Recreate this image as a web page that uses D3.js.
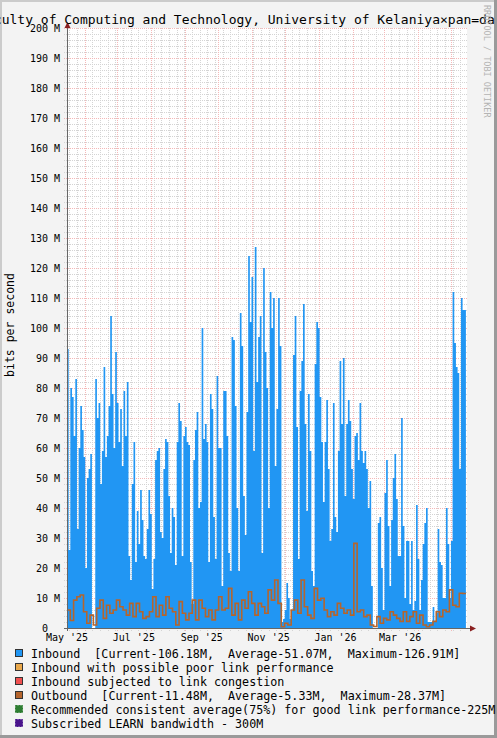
<!DOCTYPE html>
<html>
<head>
<meta charset="utf-8">
<script src="https://cdn.jsdelivr.net/npm/d3@7/dist/d3.min.js"></script>
<style>
  html, body { margin: 0; padding: 0; background: #f3f3f3; }
  svg { display: block; }
  text { font-family: "DejaVu Sans Mono", monospace; white-space: pre; }
</style>
</head>
<body>
<div id="chart"></div>
<script>
// ---- data ----
var titleText = "Faculty of Computing and Technology, University of Kelaniya×pan=da";
var yLabel = "bits per second";
var credit = "RRDTOOL / TOBI OETIKER";

var yTickValues = [0, 10, 20, 30, 40, 50, 60, 70, 80, 90, 100, 110, 120, 130, 140, 150, 160, 170, 180, 190, 200];
var xLabelDates = ["2025-05-16", "2025-07-16", "2025-09-16", "2025-11-16", "2026-01-16", "2026-03-16"];
var xLabelTexts = ["May '25", "Jul '25", "Sep '25", "Nov '25", "Jan '26", "Mar '26"];

var viewStart = "2025-05-16", viewEnd = "2026-05-16";
var dataStart = "2025-05-16", dataEnd = "2026-05-15";

// Inbound, Mbit/s, evenly spaced samples over the data span
var inbound = [
  93, 26, 80, 77, 64, 83, 33, 60, 74, 66, 57, 20, 50, 53, 58, 0, 0, 83, 70, 75,
  48, 59, 87, 57, 64, 74, 104, 78, 60, 92, 75, 62, 73, 54, 79, 64, 82, 24, 16, 48,
  62, 22, 39, 28, 46, 36, 24, 23, 33, 46, 38, 13, 23, 56, 59, 60, 32, 30, 53, 63,
  62, 44, 25, 40, 37, 21, 62, 75, 69, 24, 64, 67, 62, 61, 22, 8, 56, 66, 72, 40,
  42, 100, 63, 68, 62, 22, 78, 73, 37, 23, 84, 60, 60, 14, 79, 79, 64, 25, 19, 97,
  96, 74, 40, 19, 105, 94, 44, 31, 72, 124, 102, 117, 59, 127, 82, 97, 104, 25, 120, 92,
  80, 40,
  112, 100, 110, 54, 73, 110, 94, 2, 3, 6, 15, 10, 3, 6, 91, 104, 67, 23, 79, 89,
  108, 68, 39, 78, 59, 19, 14, 88, 102, 100, 77, 62, 42, 62, 76, 53, 29, 33, 75, 37,
  32, 59, 89, 68, 90, 44, 68, 76, 69, 53, 43, 64, 65, 56, 75, 59, 55, 59, 53, 40,
  49, 14, 0, 0, 0, 35, 37, 20, 6, 45, 56, 34, 14, 36, 50, 58, 43, 24, 24, 70,
  34, 10, 29, 29, 8, 29, 6, 9, 41, 23, 6, 16, 28, 35, 40, 2, 2, 2, 7, 2,
  5, 33, 22, 21, 10, 10, 40, 28, 10, 29, 112, 95, 87, 85, 53, 110, 106, 106
];

// Outbound, Mbit/s, evenly spaced samples over the data span
var outbound = [
  6, 2.5, 9.3, 10.4, 11, 5.4, 1.6, 4.3, 1, 6.6, 9.3, 3.2, 7.6, 4.9, 6, 9.3, 7.1, 6, 4.3, 8.2,
  3.8, 8.2, 5.4, 3.2, 3.8, 5.4, 10.4, 3.8, 7.6, 4.3, 10.4, 6.6, 5.4, 1, 8.8, 4.9, 2.7, 4.9, 9.3, 2.7,
  9.3, 6.6, 3.8, 6, 2.7, 6, 10.4, 6, 6.6, 13.2, 4.3, 8.2, 2.7, 9.3, 6.6, 12.1, 8.2, 4.3, 8.2, 7.1,
  4.9,
  12.7, 9.3, 16, 8.2, 0.4, 1.6, 1, 6, 9.3, 4.9, 16, 7.1, 4.3, 3.2, 13.2, 9.3, 9.9, 6, 3.8, 5.4,
  4.3, 8.2, 6.6, 4.9, 6, 4.3, 28.2, 5.4, 6, 3.8, 4.3, 1, 0.5, 3.8, 1.6, 3.2, 2.7, 5.4, 4.3, 3.2,
  2.2, 5.4, 2.2, 3.8, 5.4, 1.6, 4.3, 1, 0.4, 1, 2.2, 5.4, 3.8, 6, 5.4, 12.7, 7.6, 7.1, 11.6, 11.48
];

var legendLabels = [
  "Inbound  [Current-106.18M,  Average-51.07M,  Maximum-126.91M]",
  "Inbound with possible poor link performance",
  "Inbound subjected to link congestion",
  "Outbound  [Current-11.48M,  Average-5.33M,  Maximum-28.37M]",
  "Recommended consistent average(75%) for good link performance-225M",
  "Subscribed LEARN bandwidth - 300M"
];
var legendColors = ["#2196f3", "#e9a84c", "#f05050", "#b5652d", "#2e7d32", "#4a148c"];

// ---- chart ----
var width = 497, height = 738;
var plot = { left: 67, right: 467, top: 28, bottom: 628 };
var parse = d3.timeParse("%Y-%m-%d");

var svg = d3.select("#chart").append("svg")
  .attr("width", width)
  .attr("height", height);

// background + frame
svg.append("rect").attr("width", width).attr("height", height).attr("fill", "#f3f3f3");
svg.append("rect").attr("x", 0).attr("y", 0).attr("width", width).attr("height", 2).attr("fill", "#cbcbcb");
svg.append("rect").attr("x", 0).attr("y", 0).attr("width", 2).attr("height", height).attr("fill", "#cbcbcb");
svg.append("rect").attr("x", 0).attr("y", height - 3).attr("width", width).attr("height", 3).attr("fill", "#9a9a9a");
svg.append("rect").attr("x", width - 3).attr("y", 0).attr("width", 3).attr("height", height).attr("fill", "#9a9a9a");

// canvas
svg.append("rect")
  .attr("x", plot.left).attr("y", plot.top)
  .attr("width", plot.right - plot.left).attr("height", plot.bottom - plot.top)
  .attr("fill", "#fff");

var x = d3.scaleTime()
  .domain([parse(viewStart), parse(viewEnd)])
  .range([plot.left, plot.right]);

var y = d3.scaleLinear()
  .domain([0, 200])
  .range([plot.bottom, plot.top]);

function toSeries(values) {
  var t0 = parse(dataStart).getTime(), t1 = parse(dataEnd).getTime();
  var step = (t1 - t0) / values.length;
  var pts = values.map(function (v, i) { return { date: new Date(t0 + i * step), v: v }; });
  pts.push({ date: new Date(t1), v: values[values.length - 1] });
  return pts;
}

// grid
var grid = svg.append("g");
var minorY = d3.range(0, 201, 2).filter(function (d) { return d % 10 !== 0; });
grid.selectAll(".hmin").data(minorY).enter().append("line")
  .attr("x1", plot.left - 3).attr("x2", plot.right)
  .attr("y1", function (d) { return y(d) + 0.5; }).attr("y2", function (d) { return y(d) + 0.5; })
  .attr("stroke", "#d4d4d4").attr("stroke-dasharray", "1,1");

var weeks = d3.timeSunday.range(x.domain()[0], x.domain()[1]);
grid.selectAll(".vmin").data(weeks).enter().append("line")
  .attr("x1", function (d) { return Math.round(x(d)) + 0.5; })
  .attr("x2", function (d) { return Math.round(x(d)) + 0.5; })
  .attr("y1", plot.top).attr("y2", plot.bottom + 3)
  .attr("stroke", "#d4d4d4").attr("stroke-dasharray", "1,1");

grid.selectAll(".hmaj").data(yTickValues.slice(1)).enter().append("line")
  .attr("x1", plot.left - 3).attr("x2", plot.right)
  .attr("y1", function (d) { return y(d) + 0.5; }).attr("y2", function (d) { return y(d) + 0.5; })
  .attr("stroke", "#f4b8b8").attr("stroke-dasharray", "1,1");

var months = d3.timeMonth.range(x.domain()[0], x.domain()[1]);
grid.selectAll(".vmaj").data(months).enter().append("line")
  .attr("x1", function (d) { return Math.round(x(d)) + 0.5; })
  .attr("x2", function (d) { return Math.round(x(d)) + 0.5; })
  .attr("y1", plot.top).attr("y2", plot.bottom + 3)
  .attr("stroke", "#f4b8b8").attr("stroke-dasharray", "1,1");

// inbound area
var area = d3.area()
  .x(function (d) { return x(d.date); })
  .y0(y(0))
  .y1(function (d) { return y(d.v); })
  .curve(d3.curveStepAfter);

svg.append("path")
  .datum(toSeries(inbound))
  .attr("d", area)
  .attr("fill", legendColors[0]);

// outbound line
var line = d3.line()
  .x(function (d) { return x(d.date); })
  .y(function (d) { return y(d.v); })
  .curve(d3.curveStepAfter);

svg.append("path")
  .datum(toSeries(outbound))
  .attr("d", line)
  .attr("fill", "none")
  .attr("stroke", legendColors[3])
  .attr("stroke-width", 1.6);

// axes
svg.append("line")
  .attr("x1", plot.left + 0.5).attr("x2", plot.left + 0.5)
  .attr("y1", plot.top - 2).attr("y2", plot.bottom + 3)
  .attr("stroke", "#666");
svg.append("line")
  .attr("x1", plot.left - 3).attr("x2", plot.right + 3)
  .attr("y1", plot.bottom + 0.5).attr("y2", plot.bottom + 0.5)
  .attr("stroke", "#666");
svg.append("path")
  .attr("d", "M" + (plot.left - 2.5) + "," + (plot.top) + "L" + (plot.left + 0.5) + "," + (plot.top - 6) + "L" + (plot.left + 3.5) + "," + (plot.top) + "Z")
  .attr("fill", "#8a2020");
svg.append("path")
  .attr("d", "M" + (plot.right + 3) + "," + (plot.bottom - 2.5) + "L" + (plot.right + 9) + "," + (plot.bottom + 0.5) + "L" + (plot.right + 3) + "," + (plot.bottom + 3.5) + "Z")
  .attr("fill", "#8a2020");

// y tick labels
svg.selectAll(".ylab").data(yTickValues).enter().append("text")
  .attr("x", function (d) { return d === 0 ? 60 - 12 : 60; })
  .attr("y", function (d) { return y(d) + 3.5; })
  .attr("text-anchor", "end")
  .attr("font-size", 10)
  .attr("fill", "#000")
  .text(function (d) { return d === 0 ? "0" : d + " M"; });

// x labels
svg.selectAll(".xlab").data(xLabelDates).enter().append("text")
  .attr("x", function (d) { return x(parse(d)); })
  .attr("y", 641)
  .attr("text-anchor", "middle")
  .attr("font-size", 10)
  .attr("fill", "#000")
  .text(function (d, i) { return xLabelTexts[i]; });

// title (overflows both sides, as in the original)
svg.append("text")
  .attr("x", -21.8)
  .attr("y", 24)
  .attr("font-size", 13)
  .attr("fill", "#000")
  .text(titleText);

// vertical axis title
svg.append("text")
  .attr("transform", "translate(14,325) rotate(-90)")
  .attr("text-anchor", "middle")
  .attr("font-size", 11.5)
  .attr("fill", "#000")
  .text(yLabel);

// credit on the right
svg.append("text")
  .attr("transform", "translate(484,5) rotate(90)")
  .attr("font-size", 8.5)
  .attr("fill", "#b4b4b4")
  .text(credit);

// legend
var legend = svg.append("g");
var items = legend.selectAll("g").data(legendLabels).enter().append("g")
  .attr("transform", function (d, i) { return "translate(0," + (657.5 + i * 14) + ")"; });

items.append("rect")
  .attr("x", 15.5).attr("y", -8)
  .attr("width", 7).attr("height", 7)
  .attr("fill", function (d, i) { return legendColors[i]; })
  .attr("stroke", function (d, i) { return i >= 4 ? legendColors[i] : "#333"; })
  .attr("stroke-dasharray", function (d, i) { return i >= 4 ? "2,1" : null; });

items.append("text")
  .attr("x", 31)
  .attr("y", 0)
  .attr("font-size", 11.7)
  .attr("fill", "#000")
  .text(function (d) { return d; });
</script>
</body>
</html>
